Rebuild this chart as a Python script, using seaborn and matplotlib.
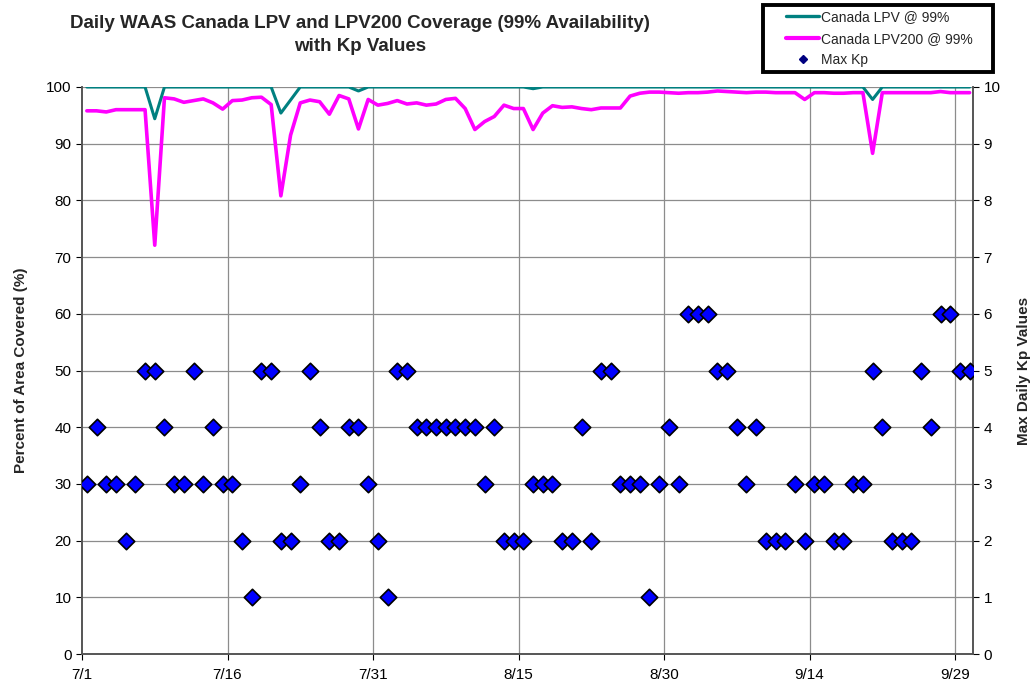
import numpy as np
import pandas as pd
import matplotlib
matplotlib.use("Agg")
import matplotlib.pyplot as plt
from matplotlib.lines import Line2D
from matplotlib.patches import Rectangle
import seaborn as sns

# daily values, 7/1 .. 9/30
lpv = [100, 100, 100, 100, 100, 100, 100, 94.4, 100, 100,
       100, 100, 100, 100, 100, 100, 100, 100, 100, 100,
       95.4, 97.7, 100, 100, 100, 100, 100, 100, 99.3, 100,
       100, 100, 100, 100, 100, 100, 100, 100, 100, 100,
       100, 100, 100, 100, 100, 100, 99.7, 100, 100, 100,
       100, 100, 100, 100, 100, 100, 100, 100, 100, 100,
       100, 100, 100, 100, 100, 100, 100, 100, 100, 100,
       100, 100, 100, 100, 100, 100, 100, 100, 100, 100,
       100, 97.8, 100, 100, 100, 100, 100, 100, 100, 100,
       100, 100]

lpv200 = [95.8, 95.8, 95.6, 96.0, 96.0, 96.0, 96.0, 72.1, 98.1, 97.9,
          97.3, 97.6, 97.9, 97.2, 96.1, 97.6, 97.7, 98.1, 98.2, 96.9,
          80.8, 91.5, 97.2, 97.7, 97.4, 95.2, 98.5, 97.9, 92.6, 97.8,
          96.8, 97.1, 97.6, 97.0, 97.2, 96.8, 97.0, 97.8, 98.0, 96.2,
          92.5, 93.9, 94.8, 96.8, 96.2, 96.2, 92.5, 95.4, 96.7, 96.4,
          96.5, 96.2, 96.0, 96.3, 96.3, 96.3, 98.4, 98.9, 99.1, 99.1,
          99.0, 98.9, 99.0, 99.0, 99.1, 99.3, 99.2, 99.1, 99.0, 99.1,
          99.1, 99.0, 99.0, 99.0, 97.8, 99.0, 99.0, 98.9, 98.9, 99.0,
          99.0, 88.3, 99.0, 99.0, 99.0, 99.0, 99.0, 99.0, 99.2, 99.0,
          99.0, 99.0]

max_kp = [3, 4, 3, 3, 2, 3, 5, 5, 4, 3,
          3, 5, 3, 4, 3, 3, 2, 1, 5, 5,
          2, 2, 3, 5, 4, 2, 2, 4, 4, 3,
          2, 1, 5, 5, 4, 4, 4, 4, 4, 4,
          4, 3, 4, 2, 2, 2, 3, 3, 3, 2,
          2, 4, 2, 5, 5, 3, 3, 3, 1, 3,
          4, 3, 6, 6, 6, 5, 5, 4, 3, 4,
          2, 2, 2, 3, 2, 3, 3, 2, 2, 3,
          3, 5, 4, 2, 2, 2, 5, 4, 6, 6,
          5, 5]

tick_labels = ["7/1", "7/16", "7/31", "8/15", "8/30", "9/14", "9/29"]

df = pd.DataFrame({"day": np.arange(len(lpv)), "lpv": lpv,
                   "lpv200": lpv200, "kp": max_kp})

sns.set_theme(style="white")
plt.rcParams["font.family"] = ["Liberation Sans", "DejaVu Sans"]

fig = plt.figure(figsize=(10.32, 6.85), dpi=100)
ax = fig.add_axes([82 / 1032, 1 - 654 / 685, (973 - 82) / 1032, (654 - 87) / 685])
ax2 = ax.twinx()

grid_c = "#8c8c8c"
sns.lineplot(data=df, x="day", y="lpv", ax=ax, color="#008080", lw=2.2, zorder=4)
sns.lineplot(data=df, x="day", y="lpv200", ax=ax, color="#ff00ff", lw=2.6, zorder=3)
sns.scatterplot(data=df, x="day", y="kp", ax=ax2, marker="D", s=70,
                color="#0000ff", edgecolor="black", linewidth=1.2, zorder=5)

ax.set_xlim(-0.5, 91.35)
ax.set_ylim(0, 100)
ax2.set_ylim(0, 10)
ax.set_yticks(np.arange(0, 101, 10))
ax2.set_yticks(np.arange(0, 11, 1))
ax.set_xticks(np.arange(len(tick_labels)) * 15 - 0.5)
ax.set_xticklabels(tick_labels)

for y in np.arange(10, 101, 10):
    ax.axhline(y, color=grid_c, lw=0.9, zorder=1)
for x in ax.get_xticks()[1:]:
    ax.axvline(x, color=grid_c, lw=0.9, zorder=1)

ax.set_xlabel("")
ax.set_ylabel("Percent of Area Covered (%)", fontsize=11, fontweight="bold", labelpad=13)
ax2.set_ylabel("Max Daily Kp Values", fontsize=11, fontweight="bold", labelpad=12)
ax2.set_xlabel("")

for a in (ax, ax2):
    a.tick_params(axis="both", labelsize=11, length=4, width=0.8, colors="black", direction="out")
    a.spines["top"].set_visible(False)
    for s in ("left", "right", "bottom"):
        a.spines[s].set_color("#555555")
        a.spines[s].set_linewidth(1.2)
ax.tick_params(axis="x", pad=6)
ax.tick_params(left=True, bottom=True)
ax2.tick_params(right=True)

fig.text(360 / 1032, 1 - 35 / 685,
         "Daily WAAS Canada LPV and LPV200 Coverage (99% Availability)\nwith Kp Values",
         ha="center", va="center", fontsize=13.5, fontweight="bold", linespacing=1.4)

# legend box drawn separately so it can be wider than its text
fig.patches.append(Rectangle((763 / 1032, 1 - 72 / 685), 230 / 1032, 67 / 685,
                             transform=fig.transFigure, facecolor="white",
                             edgecolor="black", linewidth=2.8, zorder=0))
handles = [Line2D([], [], color="#008080", lw=2.4),
           Line2D([], [], color="#ff00ff", lw=3.0),
           Line2D([], [], color="#000080", marker="D", lw=0, markersize=4.5)]
fig.legend(handles, ["Canada LPV @ 99%", "Canada LPV200 @ 99%", "Max Kp"],
           loc="upper left", bbox_to_anchor=(786 / 1032, 1 - 10 / 685),
           fontsize=10, frameon=False, handlelength=2.4,
           borderpad=0, labelspacing=0.55, handletextpad=0.15,
           borderaxespad=0)

fig.savefig("out.png", dpi=100)
